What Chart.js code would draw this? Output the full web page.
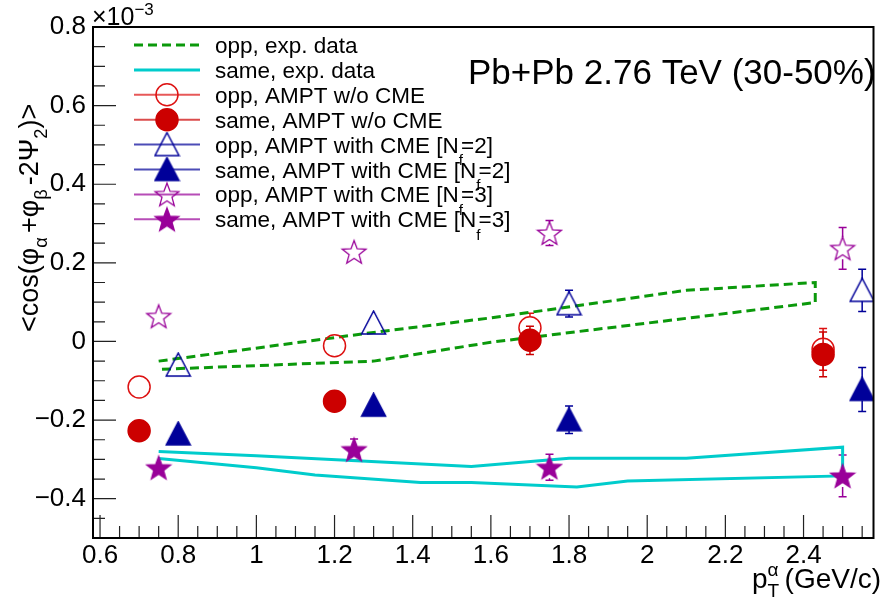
<!DOCTYPE html>
<html><head><meta charset="utf-8">
<script src="https://cdn.jsdelivr.net/npm/chart.js@4.4.1/dist/chart.umd.min.js"></script>
<style>html,body{margin:0;padding:0;background:#fff;}#wrap{width:886px;height:604px;}</style>
</head><body><div id="wrap"><canvas id="c" width="886" height="604"></canvas></div>
<script>
// ---------- axes ----------
const xRange = [0.582, 2.579];
const yRange = [-0.5, 0.8];
const xTickValues = [0.6, 0.8, 1.0, 1.2, 1.4, 1.6, 1.8, 2.0, 2.2, 2.4];
const yTickValues = [-0.4, -0.2, 0, 0.2, 0.4, 0.6, 0.8];

// ---------- experimental bands (outline path: upper edge then lower edge back) ----------
const oppExpX = [0.75, 1.3, 1.6, 2.1, 2.43, 2.43, 1.6, 1.3, 0.75];
const oppExpY = [-0.050, 0.023, 0.060, 0.130, 0.150, 0.099, -0.002, -0.050, -0.071];
const sameExpX = [0.75, 1.0, 1.55, 1.8, 2.1, 2.5, 2.5, 1.95, 1.82, 1.55, 1.42, 1.15, 1.0, 0.75];
const sameExpY = [-0.280, -0.291, -0.318, -0.297, -0.297, -0.269, -0.342, -0.355, -0.370, -0.359, -0.359, -0.340, -0.321, -0.298];

// ---------- AMPT points ----------
const xNoCME = [0.7, 1.2, 1.7, 2.45];
const oppNoCME = [-0.116, -0.011, 0.035, -0.020];
const oppNoCMEErr = [0.008, 0.008, 0.037, 0.053];
const sameNoCME = [-0.227, -0.152, 0.003, -0.033];
const sameNoCMEErr = [0.008, 0.008, 0.036, 0.057];

const xCME2 = [0.8, 1.3, 1.8, 2.55];
const oppCME2 = [-0.060, 0.047, 0.096, 0.130];
const oppCME2Err = [0.008, 0.008, 0.034, 0.054];
const sameCME2 = [-0.235, -0.162, -0.199, -0.122];
const sameCME2Err = [0.008, 0.008, 0.035, 0.056];

const xCME3 = [0.75, 1.25, 1.75, 2.5];
const oppCME3 = [0.064, 0.228, 0.276, 0.237];
const oppCME3Err = [0.008, 0.008, 0.032, 0.053];
const sameCME3 = [-0.321, -0.275, -0.320, -0.342];
const sameCME3Err = [0.008, 0.027, 0.033, 0.053];

const legendLabels = [
  "opp, exp. data", "same, exp. data", "opp, AMPT w/o CME", "same, AMPT w/o CME",
  "opp, AMPT with CME [N|f|=2]", "same, AMPT with CME [N|f|=2]",
  "opp, AMPT with CME [N|f|=3]", "same, AMPT with CME [N|f|=3]"
];

const GREEN = '#0b990b', CYAN = '#00cccc', RED = '#cc0000', RED_OPEN = '#dd1111', BLUE = '#000099', PURPLE = '#990099';
const FONT = '"Liberation Sans", Arial, sans-serif';

function pts(xs, ys) { return xs.map((x, i) => ({x: x, y: ys[i]})); }

function triCanvas(color, filled) {
  const W = 25, H = 24, c = document.createElement('canvas');
  c.width = W + 2; c.height = H + 2;
  const g = c.getContext('2d');
  g.beginPath(); g.moveTo(1 + W / 2, 1); g.lineTo(1 + W - 0.5, 1 + H - 1); g.lineTo(1.5, 1 + H - 1); g.closePath();
  if (filled) { g.fillStyle = color; g.fill(); }
  g.strokeStyle = color; g.lineWidth = 1.5; g.stroke();
  return c;
}
function starCanvas(color, filled) {
  const R = 12.5, r = R * 0.42, s = 28, c = document.createElement('canvas');
  c.width = s; c.height = s;
  const g = c.getContext('2d');
  const cx = s / 2, cy = s / 2 + 0.0955 * R;
  g.beginPath();
  for (let i = 0; i < 10; i++) {
    const rr = i % 2 ? r : R, a = -Math.PI / 2 + i * Math.PI / 5;
    const px = cx + rr * Math.cos(a), py = cy + rr * Math.sin(a);
    i ? g.lineTo(px, py) : g.moveTo(px, py);
  }
  g.closePath();
  if (filled) { g.fillStyle = color; g.fill(); }
  g.strokeStyle = color; g.lineWidth = 1.3; g.stroke();
  return c;
}
const openTri = triCanvas(BLUE, false), fullTri = triCanvas(BLUE, true);
const openStar = starCanvas(PURPLE, false), fullStar = starCanvas(PURPLE, true);

function markerDS(label, xs, ys, errs, style, color, fill, order) {
  return {
    label: label, data: pts(xs, ys), errors: errs, showLine: false, order: order,
    pointStyle: style, pointRadius: 11, pointHoverRadius: 11,
    borderColor: color, backgroundColor: fill, pointBorderWidth: 1.5, markerHalf: 11
  };
}

const datasets = [
  {label: legendLabels[0], data: pts(oppExpX, oppExpY), showLine: true, order: 10, pointRadius: 0,
   borderColor: GREEN, borderWidth: 3, borderDash: [9, 5], tension: 0, fill: false},
  {label: legendLabels[1], data: pts(sameExpX, sameExpY), showLine: true, order: 10, pointRadius: 0,
   borderColor: CYAN, borderWidth: 3, tension: 0, fill: false},
  markerDS(legendLabels[2], xNoCME, oppNoCME, oppNoCMEErr, 'circle', RED_OPEN, 'rgba(0,0,0,0)', 5),
  markerDS(legendLabels[3], xNoCME, sameNoCME, sameNoCMEErr, 'circle', RED, RED, 1),
  markerDS(legendLabels[4], xCME2, oppCME2, oppCME2Err, openTri, BLUE, BLUE, 5),
  markerDS(legendLabels[5], xCME2, sameCME2, sameCME2Err, fullTri, BLUE, BLUE, 1),
  markerDS(legendLabels[6], xCME3, oppCME3, oppCME3Err, openStar, PURPLE, PURPLE, 5),
  markerDS(legendLabels[7], xCME3, sameCME3, sameCME3Err, fullStar, PURPLE, PURPLE, 1)
];

function fmt(v) {
  const r = Math.round(v);
  let s = Math.abs(v - r) < 1e-9 ? String(r) : v.toFixed(1);
  return s.replace('-', '\u2212');
}

function drawRich(g, x, y, parts, size) {
  let cx = x;
  for (const p of parts) {
    const fs = p.s ? size * 0.68 : size;
    g.font = fs + 'px ' + FONT;
    let dy = 0;
    if (p.s === 'sub') dy = size * (p.dy || 0.32);
    if (p.s === 'sup') dy = -size * 0.42;
    g.fillText(p.t, cx, y + dy);
    if (!p.noAdv) cx += g.measureText(p.t).width + (p.gap || 0);
  }
  return cx;
}

const errorBars = {
  id: 'errorBars',
  beforeDatasetsDraw(chart) {
    const g = chart.ctx, ys = chart.scales.y;
    chart.data.datasets.forEach((ds, i) => {
      if (!ds.errors) return;
      const meta = chart.getDatasetMeta(i);
      g.save(); g.strokeStyle = ds.borderColor; g.lineWidth = 1.5;
      meta.data.forEach((el, j) => {
        const e = ds.errors[j], v = ds.data[j].y;
        const top = ys.getPixelForValue(v + e), bot = ys.getPixelForValue(v - e);
        const h = ds.markerHalf;
        g.beginPath();
        if (el.y - top > h) { g.moveTo(el.x, top); g.lineTo(el.x, el.y - h); }
        if (bot - el.y > h) { g.moveTo(el.x, bot); g.lineTo(el.x, el.y + h); }
        if (el.y - top > h - 2) { g.moveTo(el.x - 4, top); g.lineTo(el.x + 4, top); g.moveTo(el.x - 4, bot); g.lineTo(el.x + 4, bot); }
        g.stroke();
      });
      g.restore();
    });
  }
};

const decor = {
  id: 'decor',
  afterDraw(chart) {
    const g = chart.ctx, a = chart.chartArea, xs = chart.scales.x, ys = chart.scales.y;
    g.save();
    // ticks inside frame
    g.strokeStyle = '#222'; g.lineWidth = 1.2;
    g.beginPath();
    for (let k = -10; k <= 16; k++) {
      const v = k * 0.05; if (v < yRange[0] - 1e-9 || v > yRange[1] + 1e-9) continue;
      const p = ys.getPixelForValue(v), len = (k % 4 === 0) ? 23 : 12;
      g.moveTo(a.left, p); g.lineTo(a.left + len, p);
    }
    for (let k = 0; k <= 60; k++) {
      const v = k * 0.05; if (v < xRange[0] || v > xRange[1]) continue;
      const p = xs.getPixelForValue(v), len = (k % 4 === 0) ? 23 : 12;
      g.moveTo(p, a.bottom); g.lineTo(p, a.bottom - len);
    }
    g.stroke();
    // frame
    g.strokeStyle = '#000'; g.lineWidth = 2;
    g.strokeRect(a.left, a.top, a.right - a.left, a.bottom - a.top);
    g.fillStyle = '#000'; g.textBaseline = 'alphabetic'; g.textAlign = 'left';
    // x10^-3
    drawRich(g, 92, 25, [{t: '\u00d710'}, {t: '\u22123', s: 'sup'}], 25);
    // title
    g.font = '35px ' + FONT;
    g.fillText('Pb+Pb 2.76 TeV (30-50%)', 468, 84);
    // x axis title
    const xt = [{t: 'p'}, {t: 'T', s: 'sub', noAdv: true}, {t: '\u03b1', s: 'sup', gap: 6}, {t: '(GeV/c)'}];
    drawRich(g, 752, 588, xt, 28);
    // y axis title
    g.save(); g.translate(38, 332); g.rotate(-Math.PI / 2);
    drawRich(g, 0, 0, [{t: '<cos(\u03c6'}, {t: '\u03b1', s: 'sub', gap: 4}, {t: '+\u03c6'}, {t: '\u03b2', s: 'sub', gap: 4},
      {t: '-2\u03a8'}, {t: '2', s: 'sub'}, {t: ')>'}], 27);
    g.restore();
    // legend
    const x0 = 134, x1 = 200, xm = 167, tx = 215, y0 = 45, dy = 24.9;
    chart.data.datasets.forEach((ds, i) => {
      const y = y0 + i * dy;
      g.save();
      g.strokeStyle = ds.borderColor; g.lineWidth = i < 2 ? 3 : 2; g.globalAlpha = i < 2 ? 1 : 0.7;
      if (ds.borderDash) g.setLineDash(ds.borderDash);
      g.beginPath(); g.moveTo(x0, y); g.lineTo(x1, y); g.stroke();
      g.restore();
      if (i >= 2) {
        if (typeof ds.pointStyle === 'string') {
          g.beginPath(); g.arc(xm, y, 11, 0, Math.PI * 2);
          g.lineWidth = 1.5; g.strokeStyle = ds.borderColor; g.stroke();
          if (ds.backgroundColor !== 'rgba(0,0,0,0)') { g.fillStyle = ds.backgroundColor; g.fill(); }
        } else {
          g.drawImage(ds.pointStyle, xm - ds.pointStyle.width / 2, y - ds.pointStyle.height / 2);
        }
      }
      g.fillStyle = '#000';
      const seg = ds.label.split('|');
      const parts = [{t: seg[0]}];
      if (seg.length > 1) { parts.push({t: seg[1], s: 'sub', dy: 0.55, gap: -2}); parts.push({t: seg[2]}); }
      drawRich(g, tx, y + 8, parts, 22.5);
    });
    g.restore();
  }
};

new Chart(document.getElementById('c'), {
  type: 'scatter',
  data: {datasets: datasets},
  options: {
    responsive: false, animation: false, devicePixelRatio: 1,
    layout: {padding: {top: 27, right: 5, left: 0, bottom: 0}},
    plugins: {legend: {display: false}, tooltip: {enabled: false}},
    scales: {
      x: {type: 'linear', min: xRange[0], max: xRange[1],
        grid: {display: false, drawTicks: false}, border: {display: false},
        afterBuildTicks: s => { s.ticks = xTickValues.map(v => ({value: v})); },
        afterFit: s => { s.height = 66; },
        ticks: {font: {family: FONT, size: 26}, color: '#000', padding: 2, maxRotation: 0, autoSkip: false, callback: v => fmt(v)}},
      y: {type: 'linear', min: yRange[0], max: yRange[1],
        grid: {display: false, drawTicks: false}, border: {display: false},
        afterBuildTicks: s => { s.ticks = yTickValues.map(v => ({value: v})); },
        afterFit: s => { s.width = 93; },
        ticks: {font: {family: FONT, size: 26}, color: '#000', padding: 7, autoSkip: false, callback: v => fmt(v)}}
    }
  },
  plugins: [errorBars, decor]
});
</script></body></html>
